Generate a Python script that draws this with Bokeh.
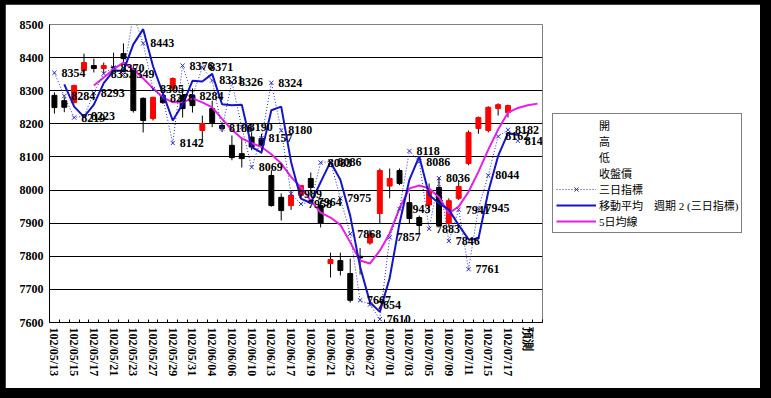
from bokeh.plotting import figure
from bokeh.models import (ColumnDataSource, FixedTicker, Legend, LegendItem,
                          Range1d, GlobalInlineStyleSheet)
from bokeh.core.properties import value
from bokeh.embed import file_html
from bokeh.resources import INLINE

NaN = float("nan")

dates = ["102/05/13", "102/05/14", "102/05/15", "102/05/16", "102/05/17",
         "102/05/20", "102/05/21", "102/05/22", "102/05/23", "102/05/24",
         "102/05/27", "102/05/28", "102/05/29", "102/05/30", "102/05/31",
         "102/06/03", "102/06/04", "102/06/05", "102/06/06", "102/06/07",
         "102/06/10", "102/06/11", "102/06/13", "102/06/14", "102/06/17",
         "102/06/18", "102/06/19", "102/06/20", "102/06/21", "102/06/24",
         "102/06/25", "102/06/26", "102/06/27", "102/06/28", "102/07/01",
         "102/07/02", "102/07/03", "102/07/04", "102/07/05", "102/07/08",
         "102/07/09", "102/07/10", "102/07/11", "102/07/12", "102/07/15",
         "102/07/16", "102/07/17", "", "預測", ""]

opens = [8286, 8270, 8264, 8361, 8376, 8367, 8372, 8412, 8367, 8277,
         8216, 8286, 8307, 8286, 8286, 8180, 8246, 8195, 8135, 8110,
         8160, 8156, 8044, 7978, 7953, 7984, 8035, 7953, 7778, 7787,
         7748, 7800, 7840, 7929, 8012, 8059, 7962, 7917, 7955, 8008,
         7899, 7975, 8080, 8186, 8180, 8246, 8234]
highs = [8295, 8280, 8318, 8412, 8397, 8385, 8415, 8443, 8376, 8280,
         8282, 8300, 8340, 8310, 8307, 8225, 8270, 8205, 8165, 8160,
         8175, 8170, 8060, 7990, 8000, 8014, 8053, 7968, 7811, 7811,
         7793, 7825, 7880, 8065, 8065, 8065, 7990, 7923, 8020, 8038,
         7975, 8030, 8180, 8222, 8253, 8262, 8258]
lows = [8231, 8235, 8262, 8355, 8355, 8352, 8355, 8385, 8234, 8174,
        8210, 8260, 8300, 8219, 8234, 8150, 8190, 8175, 8090, 8068,
        8120, 8110, 7950, 7908, 7940, 7975, 7984, 7887, 7736, 7742,
        7660, 7745, 7835, 7899, 7975, 8015, 7899, 7869, 7935, 7887,
        7890, 7970, 8075, 8170, 8174, 8225, 8219]
closes = [8249, 8250, 8316, 8385, 8367, 8376, 8370, 8397, 8240, 8210,
          8280, 8264, 8337, 8246, 8255, 8201, 8204, 8186, 8098, 8095,
          8130, 8135, 7953, 7938, 7984, 8014, 8008, 7900, 7790, 7757,
          7667, 7795, 7868, 8059, 8035, 8020, 7914, 7893, 7999, 7893,
          7968, 8011, 8174, 8219, 8250, 8258, 8255]

# 三日指標
index3 = [8354, 8284, 8219, 8223, 8293, 8352, 8370, 8349, 8530, 8443,
          8305, 8278, 8142, 8376, 8284, 8371, 8331, 8186, 8326, 8190,
          8069, 8157, 8324, 8180, 7989, 7958, 7964, 8083, 8086, 7975,
          7868, 7667, 7654, 7610, 7857, 7943, 8118, 8086, 7883, 8036,
          7846, 7941, 7761, 7945, 8044, 8162, 8182, 8149]

# 移動平均 週期 2 (三日指標)
ma2 = [NaN, 8319, 8252, 8221, 8258, 8323, 8361, 8360, 8440, 8486,
       8374, 8292, 8210, 8259, 8330, 8328, 8351, 8259, 8256, 8258,
       8130, 8113, 8241, 8252, 8085, 7974, 7961, 8024, 8085, 8031,
       7922, 7768, 7661, 7632, 7734, 7900, 8031, 8102, 7985, 7960,
       7941, 7894, 7851, 7853, 7995, 8103, 8172, 8166]

# 5日均線
ma5 = [NaN, NaN, NaN, NaN, 8316, 8340, 8365, 8385, 8364, 8337,
       8307, 8280, 8265, 8265, 8277, 8265, 8250, 8215, 8182, 8156,
       8142, 8130, 8108, 8080, 8040, 8008, 7968, 7932, 7917, 7895,
       7842, 7787, 7778, 7817, 7869, 7945, 8005, 8014, 8005, 7978,
       7930, 7950, 7995, 8055, 8122, 8183, 8234, 8248, 8256, 8261]

y_ticks = [7600, 7700, 7800, 7900, 8000, 8100, 8200, 8300, 8400, 8500]

legend_labels = ["開", "高", "低", "收盤價", "三日指標",
                 "移動平均    週期 2 (三日指標)", "5日均線"]

RED = "#FF0000"
BLUE_DOT = "#2B2BC8"
BLUE_MA = "#1414C8"
MAGENTA = "#E61EE6"
NUMFONT = "Liberation Serif"
LEGFONT = "Liberation Serif, Noto Sans CJK TC"

n_cat = len(dates)

p = figure(frame_width=493, frame_height=298, output_backend="svg",
           toolbar_location=None,
           x_range=Range1d(-0.5, n_cat - 0.5),
           y_range=Range1d(y_ticks[0], y_ticks[-1]),
           min_border_left=44, min_border_right=4,
           min_border_top=20, min_border_bottom=70)
p.stylesheets = [GlobalInlineStyleSheet(
    css="html{margin:0;padding:0;background:#000;overflow:hidden;}"
        "body{margin:0;padding:4px 0 0 5px;background:#000;"
        "width:760px;height:388px;overflow:hidden;}")]

p.background_fill_color = "white"
p.border_fill_color = "white"
p.outline_line_color = "#808080"
p.outline_line_width = 1

# grid
p.xgrid.visible = False
p.ygrid.ticker = FixedTicker(ticks=y_ticks[1:-1])
p.ygrid.grid_line_color = "black"
p.ygrid.grid_line_width = 1

# y axis
p.yaxis.ticker = FixedTicker(ticks=y_ticks)
p.yaxis.axis_line_color = "black"
p.yaxis.major_tick_out = 0
p.yaxis.major_tick_in = 0
p.yaxis.minor_tick_out = 0
p.yaxis.minor_tick_in = 0
p.yaxis.major_label_standoff = 6
p.yaxis.major_label_text_font = NUMFONT
p.yaxis.major_label_text_font_style = "bold"
p.yaxis.major_label_text_font_size = "12px"
p.yaxis.major_label_text_color = "black"

# x axis
label_idx = list(range(0, n_cat, 2))
p.xaxis.ticker = FixedTicker(ticks=label_idx,
                             minor_ticks=[i - 0.5 for i in range(n_cat + 1)])
p.xaxis.major_label_overrides = {i: dates[i] for i in label_idx}
p.xaxis.major_label_orientation = "vertical"
p.xaxis.axis_line_color = "black"
p.xaxis.major_tick_out = 0
p.xaxis.major_tick_in = 0
p.xaxis.minor_tick_out = 0
p.xaxis.minor_tick_in = 3
p.xaxis.minor_tick_line_color = "black"
p.xaxis.major_label_standoff = 5
p.xaxis.major_label_text_font = NUMFONT
p.xaxis.major_label_text_font_style = "bold"
p.xaxis.major_label_text_font_size = "12px"
p.xaxis.major_label_text_color = "black"

# candlesticks
xs = list(range(len(opens)))
colors = [RED if c >= o else "black" for o, c in zip(opens, closes)]
cs = ColumnDataSource(dict(
    x=xs, high=highs, low=lows,
    top=[max(o, c) for o, c in zip(opens, closes)],
    bottom=[min(o, c) for o, c in zip(opens, closes)],
    color=colors))
p.segment(x0="x", y0="high", x1="x", y1="low", source=cs,
          line_color="black", line_width=1)
p.vbar(x="x", width=0.5, top="top", bottom="bottom", source=cs,
       fill_color="color", line_color="color", line_width=1)

# 5 day MA
r_ma5 = p.line(list(range(len(ma5))), ma5, line_color=MAGENTA, line_width=2)

# moving average of 3-day index
r_ma2 = p.line(list(range(len(ma2))), ma2, line_color=BLUE_MA, line_width=2)

# 3-day index
ix = list(range(len(index3)))
r_i3l = p.line(ix, index3, line_color=BLUE_DOT, line_width=1, line_dash="1 2")
r_i3m = p.scatter(ix, index3, marker="x", size=6, line_color=BLUE_DOT,
                  line_width=1)
p.text(x=ix, y=index3, text=[str(v) for v in index3], x_offset=7,
       text_baseline="middle", text_align="left",
       text_font=value(NUMFONT), text_font_style="bold",
       text_font_size="12px", text_color="black")

# invisible renderers for the stock-series legend entries
dummies = [p.line([0], [y_ticks[0]], line_alpha=0) for _ in range(4)]

items = [LegendItem(label=legend_labels[k], renderers=[dummies[k]]) for k in range(4)]
items.append(LegendItem(label=legend_labels[4], renderers=[r_i3l, r_i3m]))
items.append(LegendItem(label=legend_labels[5], renderers=[r_ma2]))
items.append(LegendItem(label=legend_labels[6], renderers=[r_ma5]))

legend = Legend(items=items, location="center_left", margin=10, padding=3,
                spacing=0, glyph_width=40, glyph_height=14, label_height=14,
                label_standoff=3, border_line_color="black",
                border_line_width=1, background_fill_color="white",
                background_fill_alpha=1,
                label_text_font=LEGFONT, label_text_font_size="11px",
                label_text_color="black")
p.add_layout(legend, "right")

open("out.html", "w").write(file_html(p, INLINE))
